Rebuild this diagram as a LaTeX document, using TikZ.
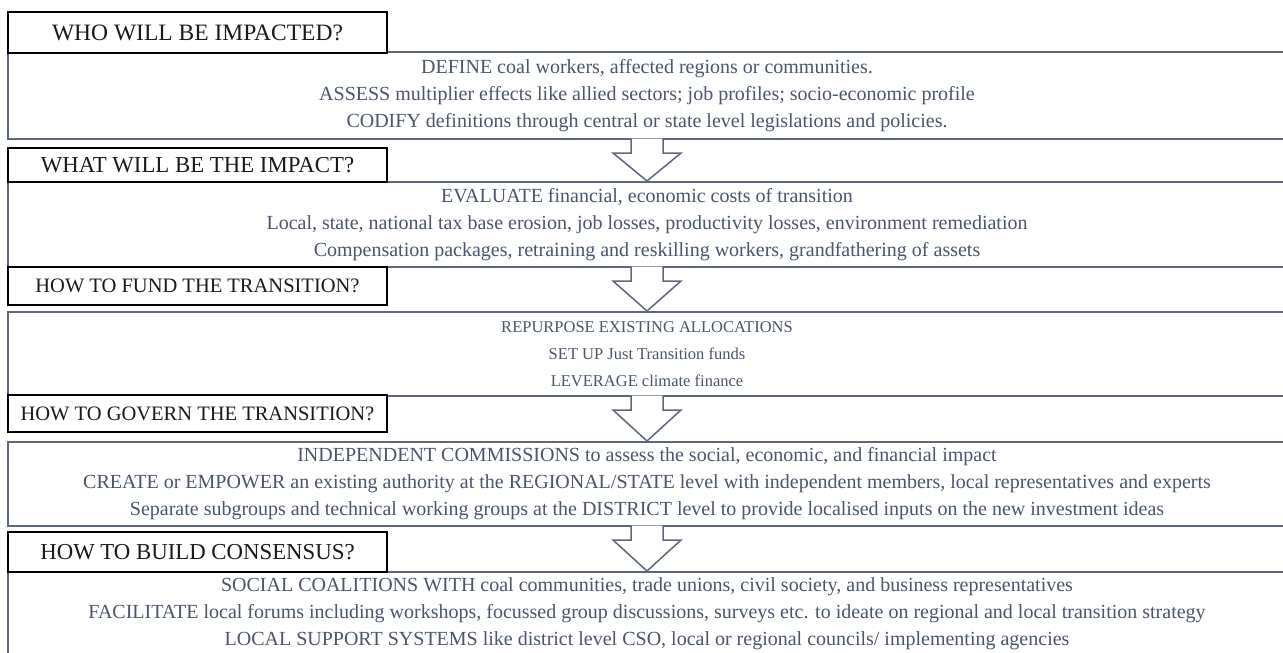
\documentclass[tikz,border=0pt]{standalone}
\usepackage{fontspec}
\setmainfont{Liberation Serif}
\usetikzlibrary{positioning,calc}
\definecolor{boxline}{HTML}{5D6780}
\definecolor{boxtext}{HTML}{4A566C}
\definecolor{headtext}{HTML}{1A1A1A}

% block arrow from the bottom of one answer box to the top of the next
\newcommand{\flowarrow}[2]{%
  \path[blockarrow] ($(#1.south)+(-16,-1.5)$) -- ($(#1.south)+(-16,13)$)
    -- ($(#1.south)+(-34,13)$) -- (#2.north) -- ($(#1.south)+(34,13)$)
    -- ($(#1.south)+(16,13)$) -- ($(#1.south)+(16,-1.5)$);}

\begin{document}
\begin{tikzpicture}[x=1pt,y=-1pt]
        \tikzset{
            question/.style={draw=black, line width=1.6pt, fill=white, shape=rectangle,
              minimum width=379pt, inner sep=0pt, text=headtext,
              font=\fontsize{22.8}{26}\selectfont},
            answers/.style={draw=boxline, line width=2pt, shape=rectangle,
              minimum width=1278pt, inner sep=0pt, align=center, text=boxtext,
              font=\fontsize{20}{27}\selectfont},
            blockarrow/.style={draw=boxline, line width=1.5pt, fill=white, line join=miter}
        }
        \useasboundingbox[fill=white] (0,0) rectangle (1283,653);
        % answer boxes (open to the right edge)
        \node[answers, minimum height=87pt] (who_a) at (647,95.5)
          {DEFINE coal workers, affected regions or communities.\\
           ASSESS multiplier effects like allied sectors; job profiles; socio-economic profile\\
           CODIFY definitions through central or state level legislations and policies.};
        \node[answers, minimum height=85pt] (what_a) at (647,224.5)
          {EVALUATE financial, economic costs of transition\\
           Local, state, national tax base erosion, job losses, productivity losses, environment remediation\\
           Compensation packages, retraining and reskilling workers, grandfathering of assets};
        \node[answers, minimum height=84pt, font=\fontsize{16.5}{27}\selectfont] (fund_a) at (647,354)
          {REPURPOSE EXISTING ALLOCATIONS\\
           SET UP Just Transition funds\\
           LEVERAGE climate finance};
        \node[answers, minimum height=84pt] (govern_a) at (647,484)
          {INDEPENDENT COMMISSIONS to assess the social, economic, and financial impact\\
           CREATE or EMPOWER an existing authority at the REGIONAL/STATE level with independent members, local representatives and experts\\
           Separate subgroups and technical working groups at the DISTRICT level to provide localised inputs on the new investment ideas};
        \node[answers, minimum height=84pt] (consensus_a) at (647,614)
          {SOCIAL COALITIONS WITH coal communities, trade unions, civil society, and business representatives\\
           FACILITATE local forums including workshops, focussed group discussions, surveys etc. to ideate on regional and local transition strategy\\
           LOCAL SUPPORT SYSTEMS like district level CSO, local or regional councils/ implementing agencies};
        % arrows
        \flowarrow{who_a}{what_a}
        \flowarrow{what_a}{fund_a}
        \flowarrow{fund_a}{govern_a}
        \flowarrow{govern_a}{consensus_a}
        % questions
        \node[question, minimum height=41pt, font=\fontsize{23.5}{26}\selectfont] (who_q) at (197.5,32.5) {WHO WILL BE IMPACTED?};
        \node[question, minimum height=34pt] (what_q) at (197.5,165) {WHAT WILL BE THE IMPACT?};
        \node[question, minimum height=38pt, font=\fontsize{20.5}{24}\selectfont] (fund_q) at (197.5,286) {HOW TO FUND THE TRANSITION?};
        \node[question, minimum height=37pt, font=\fontsize{20.5}{24}\selectfont] (govern_q) at (197.5,413.5) {HOW TO GOVERN THE TRANSITION?};
        \node[question, minimum height=40pt] (consensus_q) at (197.5,552) {HOW TO BUILD CONSENSUS?};
    \end{tikzpicture}
\end{document}
